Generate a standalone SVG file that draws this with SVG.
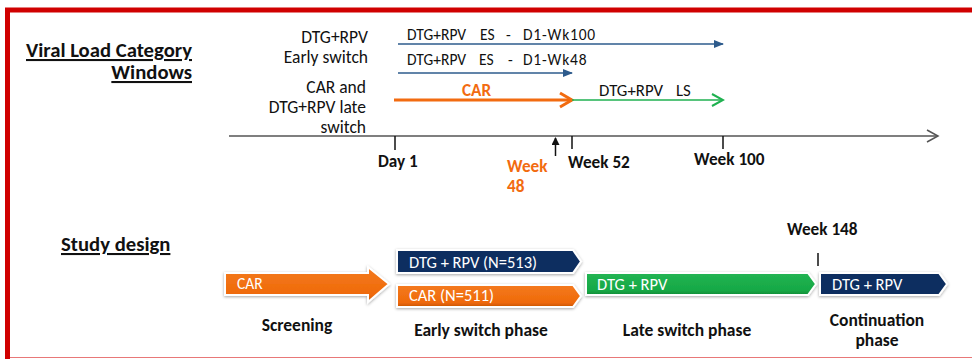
<svg xmlns="http://www.w3.org/2000/svg" width="972" height="359" viewBox="0 0 972 359">
<style>
text{font-family:Carlito,Lato,"Liberation Sans",sans-serif;fill:#111}
.h{font-size:20.7px;font-weight:bold;text-decoration:underline}
.lab{font-size:17.5px;text-anchor:end}
.al{font-size:15.5px}
.sp{letter-spacing:0.8px}
.b{font-size:17.2px;font-weight:bold}
.w{fill:#fff;font-size:16.5px}
.or{fill:#f26b10}
.ph{font-size:17.5px;font-weight:bold;text-anchor:middle}
.box{stroke:#fff;stroke-width:2;filter:url(#sh)}
</style>
<defs>
<filter id="sh" x="-10%" y="-30%" width="120%" height="160%">
<feDropShadow dx="0" dy="1" stdDeviation="1.5" flood-color="#000" flood-opacity="0.35"/>
</filter>
<linearGradient id="gO" x1="0" y1="0" x2="0" y2="1"><stop offset="0" stop-color="#f47a20"/><stop offset="0.8" stop-color="#ef6a08"/><stop offset="1" stop-color="#c85405"/></linearGradient>
<linearGradient id="gG" x1="0" y1="0" x2="0" y2="1"><stop offset="0" stop-color="#22b453"/><stop offset="0.8" stop-color="#16a845"/><stop offset="1" stop-color="#0f8a36"/></linearGradient>
<marker id="mBlue" markerWidth="10" markerHeight="8" refX="9" refY="4" orient="auto" markerUnits="userSpaceOnUse"><path d="M0,0 L10,4 L0,8 Z" fill="#2d5b8c"/></marker>
<marker id="mOr" markerWidth="16" markerHeight="18" refX="14" refY="9" orient="auto" markerUnits="userSpaceOnUse"><path d="M2,2 L14,9 L2,16" fill="none" stroke="#f26b10" stroke-width="3"/></marker>
<marker id="mGr" markerWidth="14" markerHeight="14" refX="12" refY="7" orient="auto" markerUnits="userSpaceOnUse"><path d="M1,1 L12,7 L1,13" fill="none" stroke="#1fb150" stroke-width="2"/></marker>
<marker id="mAx" markerWidth="14" markerHeight="14" refX="12" refY="7" orient="auto" markerUnits="userSpaceOnUse"><path d="M1,1 L12,7 L1,13" fill="none" stroke="#555" stroke-width="1.5"/></marker>
<marker id="mBk" markerWidth="8" markerHeight="10" refX="7" refY="4" orient="auto" markerUnits="userSpaceOnUse"><path d="M0,0 L8,4 L0,8 Z" fill="#111"/></marker>
</defs>
<rect width="972" height="359" fill="#fff"/>
<g id="frame">
<line x1="5" y1="10" x2="972" y2="10" stroke="#d00000" stroke-width="5"/>
<line x1="7.5" y1="8" x2="7.5" y2="359" stroke="#d00000" stroke-width="5"/>
<line x1="10" y1="357.5" x2="972" y2="357.5" stroke="#e87878" stroke-width="1.2"/>
</g>
<g id="title-windows">
<text class="h" text-anchor="end"><tspan x="192" y="57">Viral Load Category</tspan><tspan x="192" y="79">Windows</tspan></text>
</g>
<g id="label-early">
<text class="lab" x="368" y="43">DTG+RPV</text>
<text class="lab" x="368" y="63">Early switch</text>
</g>
<g id="label-late">
<text class="lab" x="366" y="93">CAR and</text>
<text class="lab" x="366" y="113">DTG+RPV late</text>
<text class="lab" x="366" y="133">switch</text>
</g>
<g id="connectors">
<line x1="398" y1="44" x2="723" y2="44" stroke="#2d5b8c" stroke-width="1.5" marker-end="url(#mBlue)"/>
<line x1="398" y1="73" x2="572" y2="73" stroke="#2d5b8c" stroke-width="1.5" marker-end="url(#mBlue)"/>
<line x1="394" y1="100" x2="572" y2="100" stroke="#f26b10" stroke-width="3" marker-end="url(#mOr)"/>
<line x1="572" y1="100" x2="723" y2="100" stroke="#1fb150" stroke-width="1.5" marker-end="url(#mGr)"/>
<line x1="229" y1="136" x2="938" y2="136" stroke="#555" stroke-width="1.5" marker-end="url(#mAx)"/>
<line x1="395" y1="136" x2="395" y2="150" stroke="#111" stroke-width="1.5"/>
<line x1="572" y1="136" x2="572" y2="149" stroke="#111" stroke-width="1.5"/>
<line x1="723" y1="136" x2="723" y2="149" stroke="#111" stroke-width="1.5"/>
<line x1="555.5" y1="156" x2="555.5" y2="138" stroke="#111" stroke-width="1.5" marker-end="url(#mBk)"/>
<line x1="818" y1="253" x2="818" y2="266" stroke="#111" stroke-width="1.5"/>
</g>
<g id="arrow-labels">
<text class="al" y="40"><tspan x="407">DTG+RPV</tspan><tspan x="480">ES</tspan><tspan x="506">-</tspan><tspan x="523" class="sp">D1-Wk100</tspan></text>
<text class="al" y="65"><tspan x="407">DTG+RPV</tspan><tspan x="479">ES</tspan><tspan x="508">-</tspan><tspan x="523" class="sp">D1-Wk48</tspan></text>
<text class="b or" x="462" y="96">CAR</text>
<text class="al" y="96" style="font-size:16.8px"><tspan x="599">DTG+RPV</tspan><tspan x="676">LS</tspan></text>
</g>
<g id="timepoints">
<text class="b" x="378" y="167">Day 1</text>
<text class="b or" x="507" y="172">Week</text>
<text class="b or" x="507" y="192">48</text>
<text class="b" x="568" y="168">Week 52</text>
<text class="b" x="694" y="165">Week 100</text>
<text class="b" x="787" y="235">Week 148</text>
</g>
<g id="title-study">
<text class="h" x="61" y="251">Study design</text>
</g>
<g id="screening">
<path class="box" d="M225,273 L368,273 L368,267 L389,284 L368,302 L368,295 L225,295 Z" fill="url(#gO)"/>
<text class="w" x="237" y="289" style="font-size:15.5px">CAR</text>
<text class="ph" x="297" y="331">Screening</text>
</g>
<g id="early-dtg">
<path class="box" d="M397,250 L573,250 L581,261.5 L573,273 L397,273 Z" fill="#0f2f60"/>
<text class="w" x="409" y="268">DTG + RPV (N=513)</text>
</g>
<g id="early-car">
<path class="box" d="M397,285 L573,285 L581,296 L573,307 L397,307 Z" fill="url(#gO)"/>
<text class="w" x="409" y="301">CAR (N=511)</text>
<text class="ph" x="481" y="336">Early switch phase</text>
</g>
<g id="late">
<path class="box" d="M586,273 L808,273 L816,284 L808,295 L586,295 Z" fill="url(#gG)"/>
<text class="w" x="597" y="289.5">DTG + RPV</text>
<text class="ph" x="687" y="336">Late switch phase</text>
</g>
<g id="continuation">
<path class="box" d="M820,273 L939,273 L947,284 L939,295 L820,295 Z" fill="#0f2f60"/>
<text class="w" x="832" y="289.5">DTG + RPV</text>
<text class="ph" x="877" y="326">Continuation</text>
<text class="ph" x="877" y="346">phase</text>
</g>
</svg>
